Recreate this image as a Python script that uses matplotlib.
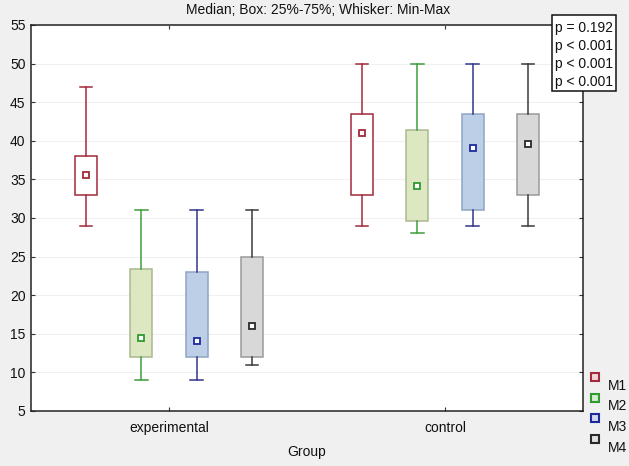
import matplotlib
matplotlib.use("Agg")
import matplotlib.pyplot as plt
from matplotlib.patches import Rectangle
from matplotlib.lines import Line2D

plt.rcParams['font.family'] = ['Liberation Sans', 'DejaVu Sans']

groups = ["experimental", "control"]
series = ["M1", "M2", "M3", "M4"]
# per series: [experimental, control]
medians = {"M1": [35.6, 41.0], "M2": [14.5, 34.1], "M3": [14.1, 39.1], "M4": [16.0, 39.6]}
q1 = {"M1": [33.0, 33.0], "M2": [12.0, 29.6], "M3": [12.0, 31.0], "M4": [12.0, 33.0]}
q3 = {"M1": [38.0, 43.5], "M2": [23.4, 41.4], "M3": [23.0, 43.5], "M4": [25.0, 43.5]}
mins = {"M1": [29, 29], "M2": [9, 28], "M3": [9, 29], "M4": [11, 29]}
maxs = {"M1": [47, 50], "M2": [31, 50], "M3": [31, 50], "M4": [31, 50]}
p_values = ["p = 0.192", "p < 0.001", "p < 0.001", "p < 0.001"]
title = "Median; Box: 25%-75%; Whisker: Min-Max"
xlabel = "Group"
yticks = [5, 10, 15, 20, 25, 30, 35, 40, 45, 50, 55]

line_colors = {"M1": "#a32a3a", "M2": "#3d9e3d", "M3": "#33358a", "M4": "#3a3a3a"}
box_edges = {"M1": "#a32a3a", "M2": "#a9b98e", "M3": "#8ea4c4", "M4": "#9a9a9a"}
box_fills = {"M1": "#ffffff", "M2": "#dde8c2", "M3": "#bccfe6", "M4": "#d8d8d8"}
marker_edges = {"M1": "#a32a3a", "M2": "#2f9a2f", "M3": "#1d2a9c", "M4": "#2a2a2a"}
legend_fills = {"M1": "#f2d6d6", "M2": "#d6ecd0", "M3": "#d2d8f0", "M4": "#e0e0e0"}

W, H = 629, 466
FS = 10
fig = plt.figure(figsize=(W / 100, H / 100), dpi=100, facecolor="#f0f0f0")
ax = fig.add_axes([31 / W, 1 - 411 / H, (583 - 31) / W, (411 - 25) / H])
ax.set_facecolor("white")

offsets = [-0.3, -0.1, 0.1, 0.3]
for si, s in enumerate(series):
    stats = []
    positions = []
    for gi in range(len(groups)):
        stats.append(dict(med=medians[s][gi], q1=q1[s][gi], q3=q3[s][gi],
                          whislo=mins[s][gi], whishi=maxs[s][gi], fliers=[]))
        positions.append(gi + offsets[si])
    ax.bxp(stats, positions=positions, widths=0.08, patch_artist=True,
           showfliers=False,
           boxprops=dict(facecolor=box_fills[s], edgecolor=box_edges[s], linewidth=1.1),
           whiskerprops=dict(color=line_colors[s], linewidth=1.1),
           capprops=dict(color=line_colors[s], linewidth=1.1),
           medianprops=dict(linewidth=0), capwidths=0.045, zorder=3)
    ax.plot(positions, medians[s], linestyle="none", marker="s", markersize=4.5,
            markerfacecolor="white", markeredgecolor=marker_edges[s],
            markeredgewidth=1.3, zorder=4)

ax.set_xlim(-0.5, 1.5)
ax.set_ylim(5, 55)
ax.set_yticks(yticks)
ax.set_xticks(range(len(groups)))
ax.set_xticklabels(groups)
ax.grid(axis="y", color="#f0f0f0", linewidth=0.8, zorder=0)
ax.set_axisbelow(True)
ax.tick_params(direction="in", length=3, right=True, top=True, labelsize=FS,
               color="#333333", labelcolor="#111111")
ax.tick_params(axis="x", pad=7)
ax.tick_params(axis="y", pad=4)
for sp in ax.spines.values():
    sp.set_color("#222222")
    sp.set_linewidth(1.1)

fig.text(318 / W, 1 - 10 / H, title, ha="center", va="center", fontsize=FS, color="#111111")
fig.text(307 / W, 1 - 452 / H, xlabel, ha="center", va="center", fontsize=FS, color="#111111")

# p-value box
fig.patches.append(Rectangle((552 / W, 1 - 91 / H), (616 - 552) / W, (91 - 15) / H,
                             transform=fig.transFigure, facecolor="white",
                             edgecolor="#111111", linewidth=1.1, zorder=5))
for i, p in enumerate(p_values):
    fig.text(555 / W, 1 - (28 + 18 * i) / H, p, ha="left", va="center",
             fontsize=FS, color="#111111", zorder=6)

# legend
for i, s in enumerate(series):
    ym = 377 + 20.5 * i
    fig.lines.append(Line2D([595 / W], [1 - ym / H], transform=fig.transFigure,
                            marker="s", markersize=5.5, markerfacecolor=legend_fills[s],
                            markeredgecolor=marker_edges[s], markeredgewidth=1.5,
                            linestyle="none"))
    fig.text(608 / W, 1 - (ym + 9) / H, s, ha="left", va="center", fontsize=FS, color="#111111")

fig.savefig("out.png", dpi=100, facecolor=fig.get_facecolor())
